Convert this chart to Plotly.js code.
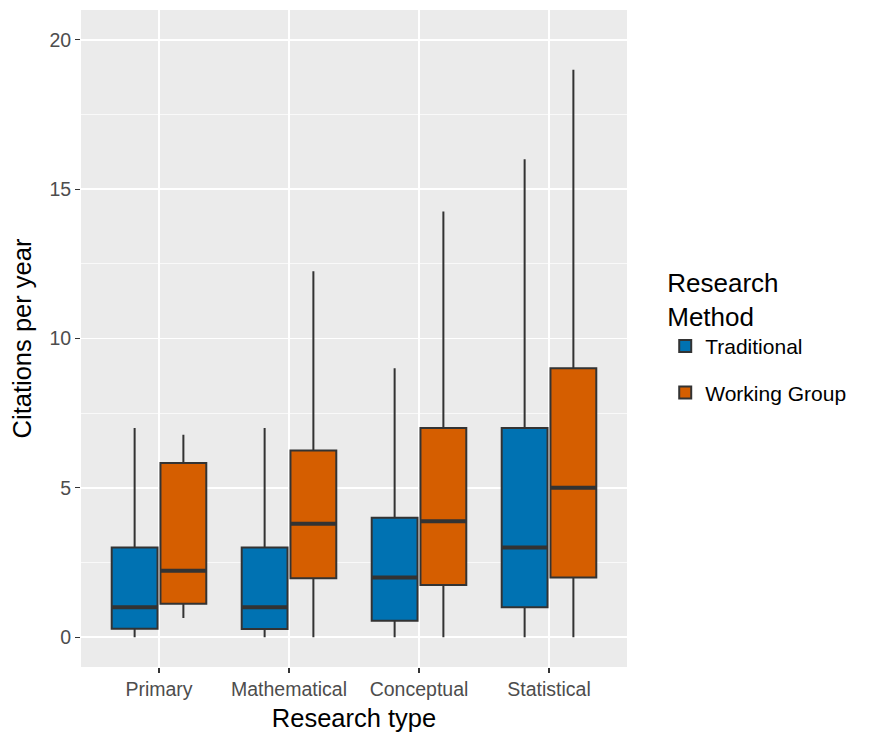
<!DOCTYPE html>
<html>
<head>
<meta charset="utf-8">
<script src="https://cdn.plot.ly/plotly-3.0.1.min.js"></script>
<style>html,body{margin:0;padding:0;background:#fff;}#chart{width:875px;height:736px;}</style>
</head>
<body>
<div id="chart"></div>
<script>
const categories = ["Primary", "Mathematical", "Conceptual", "Statistical"];
const seriesNames = ["Traditional", "Working Group"];

const tradLow    = [0, 0, 0, 0];
const tradQ1     = [0.28, 0.27, 0.55, 1.0];
const tradMedian = [1.0, 1.0, 2.0, 3.0];
const tradQ3     = [3.0, 3.0, 4.0, 7.0];
const tradHigh   = [7.0, 7.0, 9.0, 16.0];

const wgLow    = [0.64, 0, 0, 0];
const wgQ1     = [1.12, 1.97, 1.75, 2.0];
const wgMedian = [2.22, 3.8, 3.88, 5.0];
const wgQ3     = [5.83, 6.25, 7.0, 9.0];
const wgHigh   = [6.78, 12.25, 14.25, 19.0];

const yTicks = [0, 5, 10, 15, 20];

const blue = "#0072B2", orange = "#D55E00", ink = "#333333";

function boxTrace(name, color, low, q1, med, q3, high, group) {
  return {
    type: "box", name: name, x: categories,
    lowerfence: low, q1: q1, median: med, q3: q3, upperfence: high,
    fillcolor: color, line: {color: ink, width: 2},
    whiskerwidth: 0, offsetgroup: group, legendgroup: group,
    hoverinfo: "y", boxpoints: false
  };
}
function medianTrace(med, group) {
  return {
    type: "box", x: categories, showlegend: false,
    lowerfence: med, q1: med, median: med, q3: med, upperfence: med,
    fillcolor: "rgba(0,0,0,0)", line: {color: ink, width: 4},
    whiskerwidth: 0, offsetgroup: group, legendgroup: group,
    hoverinfo: "skip", boxpoints: false
  };
}

const data = [
  boxTrace(seriesNames[0], blue, tradLow, tradQ1, tradMedian, tradQ3, tradHigh, "a"),
  boxTrace(seriesNames[1], orange, wgLow, wgQ1, wgMedian, wgQ3, wgHigh, "b"),
  medianTrace(tradMedian, "a"),
  medianTrace(wgMedian, "b")
];

const layout = {
  width: 875, height: 736,
  margin: {l: 81, r: 248, t: 10, b: 69},
  paper_bgcolor: "#ffffff", plot_bgcolor: "#EBEBEB",
  font: {family: "Liberation Sans, Arial, sans-serif", color: "#4D4D4D"},
  boxmode: "group", boxgap: 0.25, boxgroupgap: 0.06,
  xaxis: {
    type: "category", range: [-0.6, 3.6],
    showgrid: true, gridcolor: "#ffffff", gridwidth: 1.6,
    zeroline: false, showline: false,
    ticks: "outside", ticklen: 5, tickwidth: 1.2, tickcolor: ink,
    tickfont: {size: 19.5, color: "#4D4D4D"},
    title: {text: "Research type", font: {size: 25.5, color: "#000"}, standoff: 9}
  },
  yaxis: {
    range: [-1, 21], tickvals: yTicks, ticktext: yTicks.map(String),
    showgrid: true, gridcolor: "#ffffff", gridwidth: 1.6,
    minor: {dtick: 2.5, tick0: 0, showgrid: true, gridcolor: "#ffffff", gridwidth: 0.7, ticks: ""},
    zeroline: false, showline: false,
    ticks: "outside", ticklen: 5, tickwidth: 1.2, tickcolor: ink,
    tickfont: {size: 19.5, color: "#4D4D4D"},
    title: {text: "Citations per year", font: {size: 25.5, color: "#000"}, standoff: 10}
  },
  showlegend: true,
  legend: {
    x: 1.07, xanchor: "left", y: 0.622, yanchor: "top",
    bgcolor: "rgba(0,0,0,0)",
    traceorder: "grouped", tracegroupgap: 16,
    title: {text: "Research<br>Method", font: {size: 26, color: "#000"}},
    font: {size: 21, color: "#000"}
  }
};

Plotly.newPlot("chart", data, layout, {displayModeBar: false, staticPlot: true});
</script>
</body>
</html>
